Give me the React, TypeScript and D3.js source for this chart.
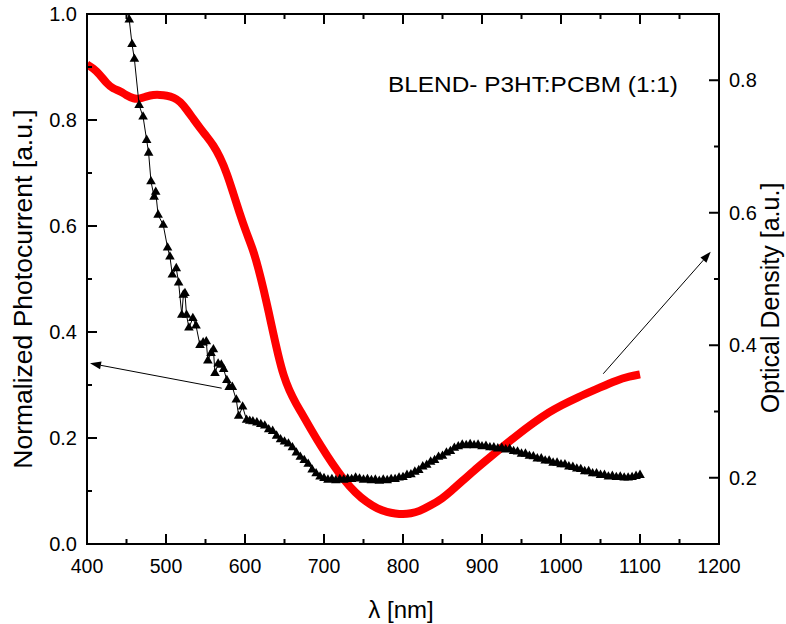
import React from "react";
import * as d3 from "d3";

// Photocurrent (black triangles) – left axis
const photoNm = [
  450, 453.5, 457, 460, 466, 471, 475.5, 478, 481, 485, 487, 490, 496.5, 502, 505, 508, 513, 516, 520, 522, 524, 526, 529,
  534, 538, 543, 547, 551, 553, 557, 560, 562, 566, 570, 573, 577, 580, 584, 589, 592, 597, 602, 606, 610,
  615, 620, 625, 630, 635, 640, 645, 650, 655, 660, 665, 670, 675, 680, 685, 690, 695, 700, 705, 710, 715, 720,
  725, 730, 735, 740, 745, 750, 755, 760, 765, 770, 775, 780, 785, 790, 795, 800, 805, 810, 815, 820, 825, 830,
  835, 840, 845, 850, 855, 860, 865, 870, 875, 880, 885, 890, 895, 900, 905, 910, 915, 920, 925, 930, 935, 940,
  945, 950, 955, 960, 965, 970, 975, 980, 985, 990, 995, 1000, 1005, 1010, 1015, 1020, 1025, 1030, 1035, 1040,
  1045, 1050, 1055, 1060, 1065, 1070, 1075, 1080, 1085, 1090, 1095, 1100,
];
const photoVal = [
  1.03, 0.989, 0.943, 0.915, 0.828, 0.806, 0.762, 0.738, 0.684, 0.655, 0.664, 0.621, 0.602, 0.559, 0.542, 0.508, 0.52, 0.493, 0.432, 0.47, 0.473, 0.432, 0.408,
  0.426, 0.412, 0.375, 0.38, 0.382, 0.346, 0.36, 0.367, 0.322, 0.34, 0.338, 0.33, 0.309, 0.296, 0.296, 0.272, 0.2415, 0.259, 0.234, 0.232, 0.231,
  0.229, 0.226, 0.223, 0.216, 0.213, 0.204, 0.197, 0.193, 0.189, 0.182, 0.172, 0.164, 0.158, 0.151, 0.14, 0.133, 0.127, 0.124, 0.121, 0.122, 0.12, 0.122,
  0.121, 0.123, 0.122, 0.125, 0.123, 0.121, 0.122, 0.12, 0.121, 0.119, 0.121, 0.12, 0.122, 0.122, 0.125, 0.126, 0.13, 0.131, 0.136, 0.139, 0.146, 0.149,
  0.155, 0.158, 0.164, 0.166, 0.172, 0.175, 0.181, 0.184, 0.187, 0.186, 0.188, 0.186, 0.187, 0.184, 0.185, 0.182, 0.182, 0.18, 0.181, 0.178, 0.179, 0.175,
  0.174, 0.17, 0.17, 0.166, 0.165, 0.161, 0.161, 0.157, 0.157, 0.153, 0.153, 0.15, 0.15, 0.146, 0.145, 0.142, 0.141, 0.137, 0.137, 0.133,
  0.133, 0.13, 0.13, 0.127, 0.128, 0.126, 0.127, 0.125, 0.125, 0.126, 0.128, 0.13,
];

// Optical density (red) – right axis
const odNm = [
  400, 408, 416, 425, 433, 442, 450, 459, 467, 476, 484, 492, 501, 510, 518, 526, 535, 543, 551, 560, 568, 577, 585,
  593, 601, 610, 617, 624, 630, 636, 642, 649, 656, 664, 672, 684, 696, 710, 725, 740, 754, 768, 780, 790, 800, 810, 820,
  835, 850, 860, 875, 890, 902, 920, 944, 965, 986, 1000, 1020, 1049, 1070, 1087, 1100,
];
const odVal = [
  0.824, 0.818, 0.809, 0.795, 0.787, 0.784, 0.777, 0.772, 0.772, 0.776, 0.778, 0.778, 0.777, 0.774, 0.768, 0.756, 0.741, 0.728, 0.716, 0.702, 0.685, 0.66, 0.63,
  0.6, 0.572, 0.545, 0.516, 0.482, 0.45, 0.417, 0.385, 0.353, 0.332, 0.313, 0.297, 0.272, 0.248, 0.222, 0.197, 0.177, 0.163, 0.153, 0.148, 0.146, 0.145, 0.146, 0.149,
  0.158, 0.169, 0.179, 0.195, 0.211, 0.223, 0.241, 0.264, 0.283, 0.3, 0.309, 0.321, 0.336, 0.347, 0.353, 0.356,
];

const xMajor = [400, 500, 600, 700, 800, 900, 1000, 1100, 1200];
const xMinor = [450, 550, 650, 750, 850, 950, 1050, 1150];
const yLeftMajor = [0.0, 0.2, 0.4, 0.6, 0.8, 1.0];
const yLeftMinor = [0.1, 0.3, 0.5, 0.7, 0.9];
const yRightMajor = [0.2, 0.4, 0.6, 0.8];
const yRightMinor = [0.3, 0.5, 0.7];

// annotation arrows: [x1 nm, y1, x2 nm, y2] (tail -> head)
const leftArrow = [570.5, 0.294, 403.8, 0.341]; // left axis units
const rightArrow = [1053.5, 0.357, 1189.5, 0.541]; // right axis units

const W = 786;
const H = 624;
const L = 87, R = 719, T = 14, B = 544;
const FONT = "'Liberation Sans', Arial, sans-serif";

export default function App() {
  const x = d3.scaleLinear().domain([400, 1200]).range([L, R]);
  const yL = d3.scaleLinear().domain([0, 1]).range([B, T]);
  const yR = d3.scaleLinear().domain([0.1, 0.9]).range([B, T]);

  const photo = photoNm.map((n, i) => [n, photoVal[i]] as [number, number]);
  const od = odNm.map((n, i) => [n, odVal[i]] as [number, number]);

  const photoLine = d3.line<[number, number]>().x((d) => x(d[0])).y((d) => yL(d[1]))(photo) || "";
  const odLine = d3
    .line<[number, number]>()
    .x((d) => x(d[0]))
    .y((d) => yR(d[1]))
    .curve(d3.curveBasis)(od) || "";
  const tri = d3.symbol().type(d3.symbolTriangle).size(40)() || "";

  const majorLen = 10, minorLen = 5;

  const arrow = (x1: number, y1: number, x2: number, y2: number, key: string) => {
    const ang = Math.atan2(y2 - y1, x2 - x1);
    const hl = 11, hw = 4;
    const bx = x2 - hl * Math.cos(ang), by = y2 - hl * Math.sin(ang);
    const px = -Math.sin(ang) * hw, py = Math.cos(ang) * hw;
    return (
      <g key={key}>
        <line x1={x1} y1={y1} x2={bx} y2={by} stroke="#000" strokeWidth={1} />
        <path d={`M${x2},${y2}L${bx + px},${by + py}L${bx - px},${by - py}Z`} fill="#000" />
      </g>
    );
  };

  return (
    <svg width={W} height={H} style={{ position: "absolute", left: 0, top: 0, background: "#fff" }} fontFamily={FONT}>
      <defs>
        <clipPath id="plot">
          <rect x={L} y={T} width={R - L} height={B - T} />
        </clipPath>
      </defs>
      <rect x={0} y={0} width={W} height={H} fill="#fff" />

      <g clipPath="url(#plot)">
        <path d={odLine} fill="none" stroke="#ff0000" strokeWidth={8} strokeLinecap="butt" strokeLinejoin="round" />
        <path d={photoLine} fill="none" stroke="#000" strokeWidth={1} />
        {photo.map((d, i) => (
          <path key={i} d={tri} transform={`translate(${x(d[0])},${yL(d[1])})`} fill="#000" />
        ))}
      </g>

      {arrow(x(leftArrow[0]), yL(leftArrow[1]), x(leftArrow[2]), yL(leftArrow[3]), "la")}
      {arrow(x(rightArrow[0]), yR(rightArrow[1]), x(rightArrow[2]), yR(rightArrow[3]), "ra")}

      {/* frame */}
      <rect x={L} y={T} width={R - L} height={B - T} fill="none" stroke="#000" strokeWidth={2} />

      {/* x ticks bottom & top */}
      {xMajor.map((v) => (
        <g key={"xm" + v}>
          <line x1={x(v)} x2={x(v)} y1={B} y2={B - majorLen} stroke="#000" strokeWidth={2} />
          <line x1={x(v)} x2={x(v)} y1={T} y2={T + majorLen} stroke="#000" strokeWidth={2} />
          <text x={x(v)} y={573} textAnchor="middle" fontSize={19.5} fill="#000">
            {v}
          </text>
        </g>
      ))}
      {xMinor.map((v) => (
        <g key={"xn" + v}>
          <line x1={x(v)} x2={x(v)} y1={B} y2={B - minorLen} stroke="#000" strokeWidth={2} />
          <line x1={x(v)} x2={x(v)} y1={T} y2={T + minorLen} stroke="#000" strokeWidth={2} />
        </g>
      ))}

      {/* left y */}
      {yLeftMajor.map((v) => (
        <g key={"yl" + v}>
          <line x1={L} x2={L + majorLen} y1={yL(v)} y2={yL(v)} stroke="#000" strokeWidth={2} />
          <text x={77} y={yL(v) + 7} textAnchor="end" fontSize={20} fill="#000">
            {v.toFixed(1)}
          </text>
        </g>
      ))}
      {yLeftMinor.map((v) => (
        <line key={"yln" + v} x1={L} x2={L + minorLen} y1={yL(v)} y2={yL(v)} stroke="#000" strokeWidth={2} />
      ))}

      {/* right y */}
      {yRightMajor.map((v) => (
        <g key={"yr" + v}>
          <line x1={R} x2={R - majorLen} y1={yR(v)} y2={yR(v)} stroke="#000" strokeWidth={2} />
          <text x={729} y={yR(v) + 7} textAnchor="start" fontSize={20} fill="#000">
            {v.toFixed(1)}
          </text>
        </g>
      ))}
      {yRightMinor.map((v) => (
        <line key={"yrn" + v} x1={R} x2={R - minorLen} y1={yR(v)} y2={yR(v)} stroke="#000" strokeWidth={2} />
      ))}

      {/* titles */}
      <text transform="translate(32,289) rotate(-90)" textAnchor="middle" fontSize={26.5} fill="#000">
        Normalized Photocurrent [a.u.]
      </text>
      <text transform="translate(779,298) rotate(-90)" textAnchor="middle" fontSize={25} fill="#000">
        Optical Density [a.u.]
      </text>
      <text x={401} y={618} textAnchor="middle" fontSize={24} fill="#000">
        λ [nm]
      </text>
      <text x={388} y={91.5} fontSize={22} fill="#000" textLength={290} lengthAdjust="spacingAndGlyphs">
        BLEND- P3HT:PCBM (1:1)
      </text>
    </svg>
  );
}
